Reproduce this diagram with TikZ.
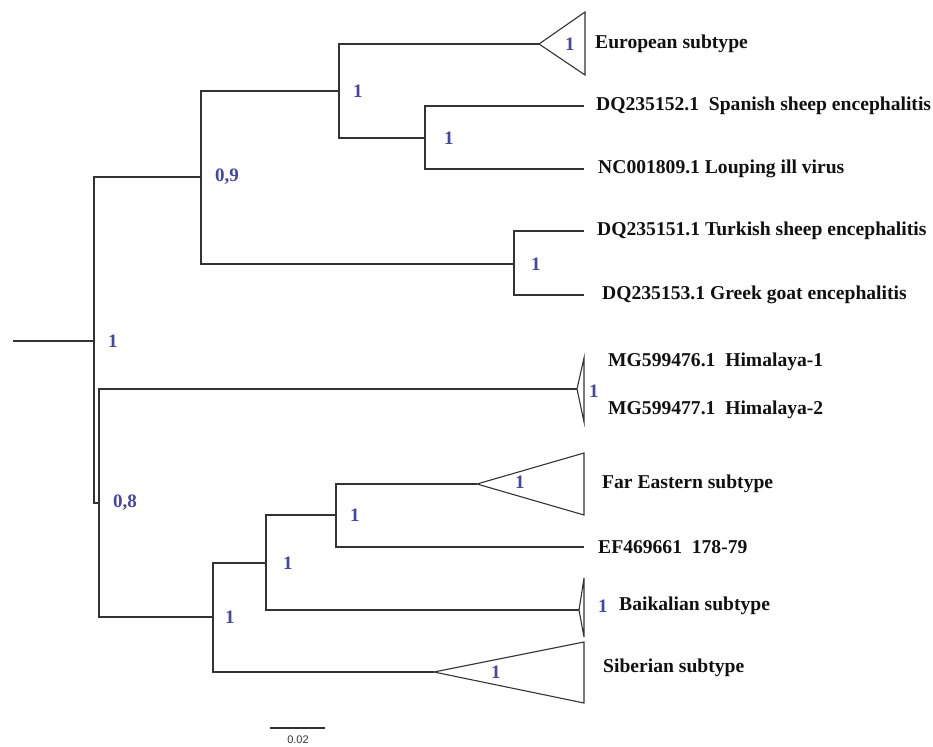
\documentclass[tikz,border=0pt]{standalone}
\usepackage{fontspec}
\setmainfont{Liberation Serif}
\setsansfont{Liberation Sans}
\usepackage{xcolor}
\usepackage{tikz}
\usetikzlibrary{positioning}
\definecolor{treeLine}{HTML}{333333}
\definecolor{supBlue}{HTML}{4545A3}
\definecolor{taxText}{HTML}{111111}
\begin{document}
\begin{tikzpicture}[x=1pt,y=-1pt,br/.style={draw=treeLine, line width=1.1pt},tri/.style={draw=treeLine, line width=1.1pt, line join=miter},tax/.style={font=\fontsize{19.6}{22}\selectfont\bfseries, text=taxText, inner sep=1pt, anchor=west},sup/.style={font=\fontsize{19}{21}\selectfont\bfseries, text=supBlue, inner sep=2pt},sbar/.style={font=\sffamily\fontsize{11}{12}\selectfont, text=treeLine, inner sep=1pt}]
\useasboundingbox (0,0) rectangle (933,746);
% internal nodes
\coordinate (stem) at (13,341);
\coordinate (nroot) at (94,341);
\coordinate (n09) at (201,177);
\coordinate (nA) at (339,91);
\coordinate (nB) at (425,138);
\coordinate (nC) at (514,264);
\coordinate (n08) at (99,503);
\coordinate (nD) at (213,617);
\coordinate (nE) at (266,563);
\coordinate (nF) at (336,515);
% leaf tips and collapsed clades
\coordinate (euro) at (539,44);
\coordinate (tSpan) at (584,106);
\coordinate (tLoup) at (584,169);
\coordinate (tTurk) at (584,231);
\coordinate (tGreek) at (584,295);
\coordinate (hima) at (577,389);
\coordinate (fareast) at (477,484);
\coordinate (tEF) at (584,547);
\coordinate (baikal) at (579,610);
\coordinate (siber) at (434,672);
% branches
\draw[br] (stem)--(nroot); \draw[br] (nroot) |- (n09); \draw[br] (nroot) |- (n08);
\draw[br] (n09) |- (nA); \draw[br] (n09) |- (nC); \draw[br] (nA) |- (euro); \draw[br] (nA) |- (nB);
\draw[br] (nB) |- (tSpan); \draw[br] (nB) |- (tLoup); \draw[br] (nC) |- (tTurk); \draw[br] (nC) |- (tGreek);
\draw[br] (n08) |- (hima); \draw[br] (n08) |- (nD); \draw[br] (nD) |- (nE); \draw[br] (nD) |- (siber);
\draw[br] (nE) |- (nF); \draw[br] (nE) |- (baikal); \draw[br] (nF) |- (fareast); \draw[br] (nF) |- (tEF);
% collapsed triangles
\draw[tri] (euro)--++(46,-32)--++(0,63)--cycle;
\draw[tri] (hima)--++(7,-31)--++(0,64)--cycle;
\draw[tri] (fareast)--++(107,-31)--++(0,62)--cycle;
\draw[tri] (baikal)--++(5,-32)--++(0,59)--cycle;
\draw[tri] (siber)--++(150,-30)--++(0,61)--cycle;
% support values
\node[sup, right=12pt of nroot] (sRoot) {1};
\node[sup, right=12pt of n09] (s09) {0,9};
\node[sup, right=12pt of nA] (sA) {1};
\node[sup, right=17pt of nB] (sB) {1};
\node[sup, right=15pt of nC] (sC) {1};
\node[sup, right=12pt of n08] (s08) {0,8};
\node[sup, right=10pt of nD] (sD) {1};
\node[sup, right=15pt of nE] (sE) {1};
\node[sup, right=12pt of nF] (sF) {1};
\node[sup, right=24pt of euro] (sEuro) {1};
\node[sup, right=10pt of hima, yshift=-2pt] (sHima) {1};
\node[sup, right=36pt of fareast, yshift=2pt] (sFar) {1};
\node[sup, right=17pt of baikal, yshift=4pt] (sBaik) {1};
\node[sup, right=55pt of siber] (sSib) {1};
% taxa
\node[tax] (lEuro) at (594,44) {European subtype};
\node[tax, right=11pt of tSpan] (lSpan) {DQ235152.1\ \ Spanish sheep encephalitis};
\node[tax, right=13pt of tLoup] (lLoup) {NC001809.1 Louping ill virus};
\node[tax, right=12pt of tTurk] (lTurk) {DQ235151.1 Turkish sheep encephalitis};
\node[tax, right=17pt of tGreek] (lGreek) {DQ235153.1 Greek goat encephalitis};
\node[tax] (lHim1) at (607,362) {MG599476.1\ \ Himalaya-1};
\node[tax] (lHim2) at (607,410) {MG599477.1\ \ Himalaya-2};
\node[tax] (lFar) at (601,484) {Far Eastern subtype};
\node[tax, right=13pt of tEF] (lEF) {EF469661\ \ 178-79};
\node[tax] (lBaik) at (618,606) {Baikalian subtype};
\node[tax] (lSib) at (602,668) {Siberian subtype};
% scale bar
\coordinate (sb0) at (270,728); \coordinate (sb1) at (325,728);
\draw[br] (sb0)--(sb1);
\node[sbar] (sbl) at (298,740) {0.02};
\end{tikzpicture}
\end{document}
